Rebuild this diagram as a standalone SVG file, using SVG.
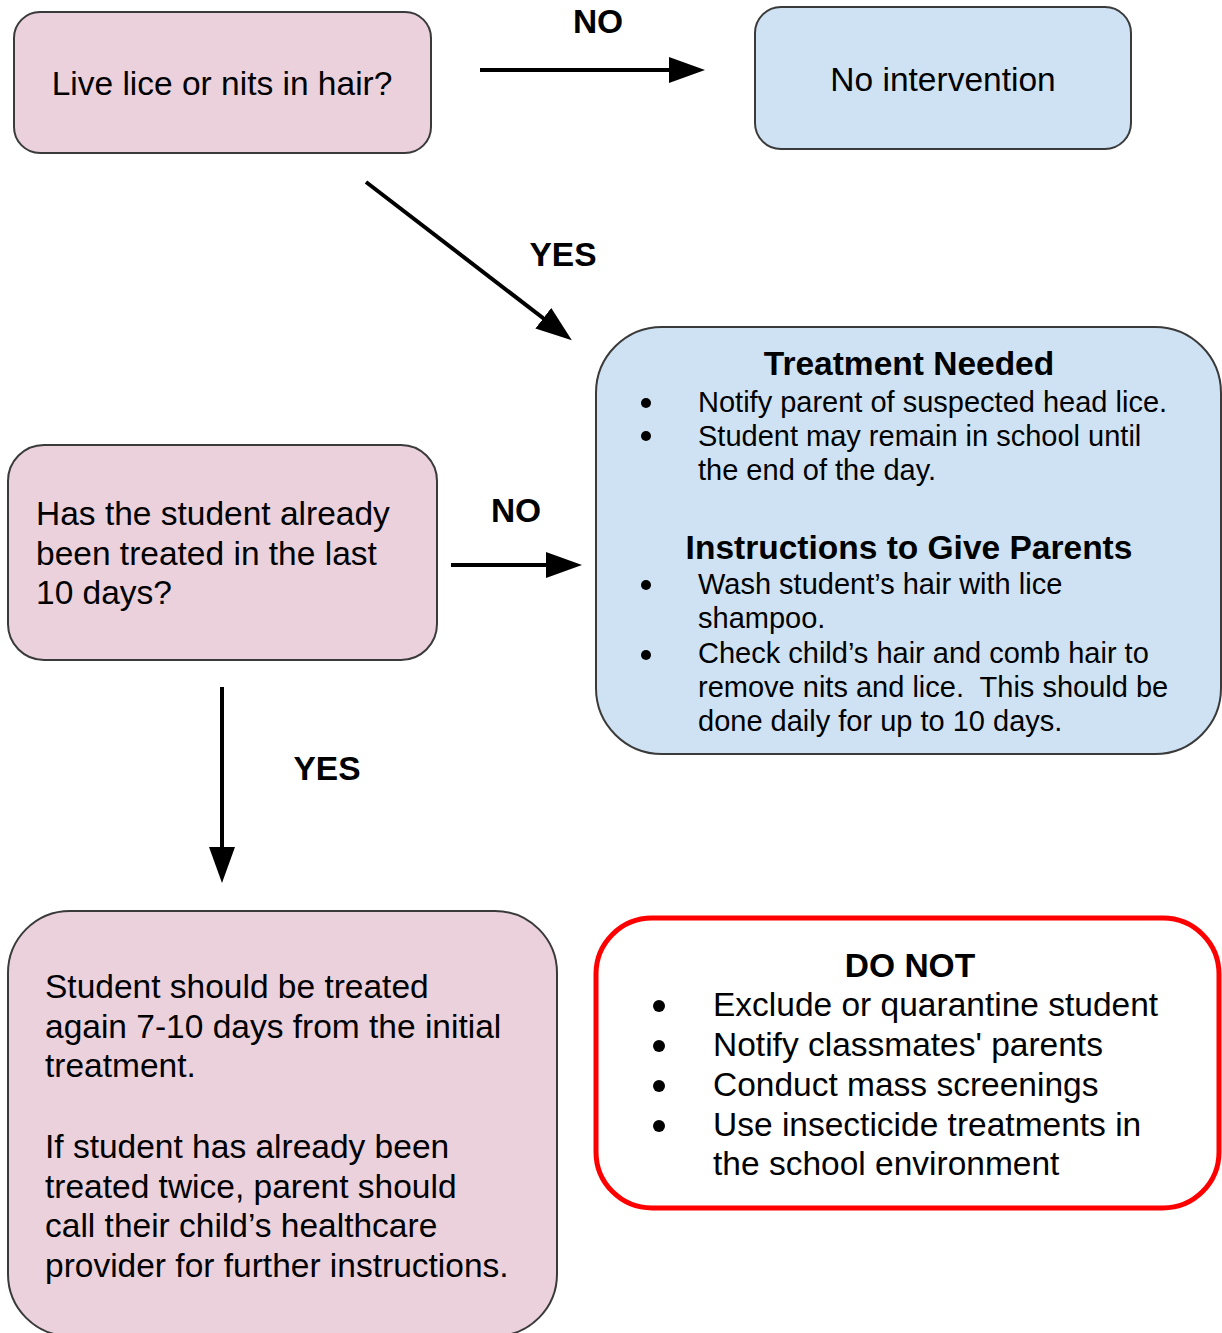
<svg xmlns="http://www.w3.org/2000/svg" width="1222" height="1333" viewBox="0 0 1222 1333">
<style>
  .pink { fill: #ead1dc; stroke: #3a3a3a; stroke-width: 2; }
  .blue { fill: #cfe2f3; stroke: #3a3a3a; stroke-width: 2; }
  .red { fill: #ffffff; stroke: #ff0000; stroke-width: 5; }
  text { font-family: "Liberation Sans", Arial, sans-serif; fill: #000; }
  .t { font-size: 33.5px; }
  .s { font-size: 29px; }
  .b { font-size: 33.5px; font-weight: bold; }
  .c { text-anchor: middle; }
  .conn { stroke: #000; stroke-width: 4; fill: none; marker-end: url(#ah); }
  .dot { fill: #000; }
</style>
<defs>
  <marker id="ah" markerWidth="10" markerHeight="7" refX="4" refY="3.25" orient="auto" markerUnits="strokeWidth">
    <path d="M0,0 L9,3.25 L0,6.5 z" fill="#000"/>
  </marker>
</defs>
<rect width="1222" height="1333" fill="#ffffff"/>

<g id="connectors">
  <line class="conn" x1="480" y1="70" x2="685" y2="70"/>
  <line class="conn" x1="366" y1="182" x2="556" y2="328"/>
  <line class="conn" x1="451" y1="565" x2="562" y2="565"/>
  <line class="conn" x1="222" y1="687" x2="222" y2="863"/>
  <text class="b c" x="598" y="33">NO</text>
  <text class="b c" x="563" y="266">YES</text>
  <text class="b c" x="516" y="522">NO</text>
  <text class="b c" x="327" y="780">YES</text>
</g>

<g id="live-lice">
  <rect class="pink" x="14" y="12" width="417" height="141" rx="26"/>
  <text class="t c" x="222" y="95">Live lice or nits in hair?</text>
</g>

<g id="no-intervention">
  <rect class="blue" x="755" y="7" width="376" height="142" rx="26"/>
  <text class="t c" x="943" y="91">No intervention</text>
</g>

<g id="treatment-needed">
  <rect class="blue" x="596" y="327" width="625" height="427" rx="66"/>
  <text class="b c" x="909" y="375">Treatment Needed</text>
  <circle class="dot" cx="646" cy="403" r="5"/>
  <text class="s" x="698" y="412">Notify parent of suspected head lice.</text>
  <circle class="dot" cx="646" cy="436" r="5"/>
  <text class="s" x="698" y="446">Student may remain in school until</text>
  <text class="s" x="698" y="480">the end of the day.</text>
  <text class="b c" x="909" y="559">Instructions to Give Parents</text>
  <circle class="dot" cx="646" cy="585" r="5"/>
  <text class="s" x="698" y="594">Wash student’s hair with lice</text>
  <text class="s" x="698" y="628">shampoo.</text>
  <circle class="dot" cx="646" cy="655" r="5"/>
  <text class="s" x="698" y="663">Check child’s hair and comb hair to</text>
  <text class="s" x="698" y="697" xml:space="preserve">remove nits and lice.  This should be</text>
  <text class="s" x="698" y="731">done daily for up to 10 days.</text>
</g>

<g id="already-treated">
  <rect class="pink" x="8" y="445" width="429" height="215" rx="36"/>
  <text class="t" x="36" y="525">Has the student already</text>
  <text class="t" x="36" y="565">been treated in the last</text>
  <text class="t" x="36" y="604">10 days?</text>
</g>

<g id="treat-again">
  <rect class="pink" x="8" y="911" width="549" height="425" rx="62"/>
  <text class="t" x="45" y="998">Student should be treated</text>
  <text class="t" x="45" y="1038">again 7-10 days from the initial</text>
  <text class="t" x="45" y="1077">treatment.</text>
  <text class="t" x="45" y="1158">If student has already been</text>
  <text class="t" x="45" y="1198">treated twice, parent should</text>
  <text class="t" x="45" y="1237">call their child’s healthcare</text>
  <text class="t" x="45" y="1277">provider for further instructions.</text>
</g>

<g id="do-not">
  <rect class="red" x="596" y="918" width="623" height="290" rx="56"/>
  <text class="b c" x="910" y="977">DO NOT</text>
  <circle class="dot" cx="659" cy="1006" r="6"/>
  <text class="t" x="713" y="1016">Exclude or quarantine student</text>
  <circle class="dot" cx="659" cy="1046" r="6"/>
  <text class="t" x="713" y="1056">Notify classmates' parents</text>
  <circle class="dot" cx="659" cy="1086" r="6"/>
  <text class="t" x="713" y="1096">Conduct mass screenings</text>
  <circle class="dot" cx="659" cy="1126" r="6"/>
  <text class="t" x="713" y="1136">Use insecticide treatments in</text>
  <text class="t" x="713" y="1175">the school environment</text>
</g>
</svg>
